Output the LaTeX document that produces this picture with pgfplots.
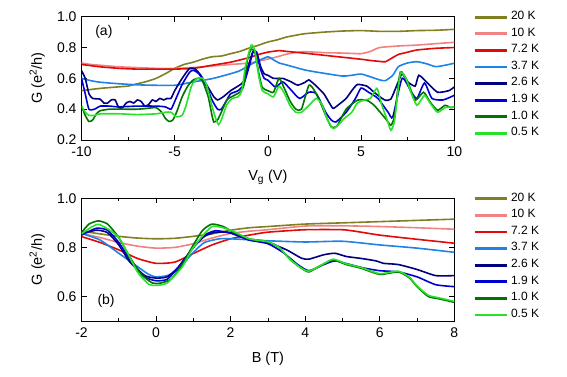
\documentclass[border=0pt]{standalone}
\usepackage{fontspec}
\setmainfont{Liberation Sans}
\usepackage{pgfplots}
\pgfplotsset{compat=1.18}
\definecolor{colA}{RGB}{128,128,32}
\definecolor{colB}{RGB}{240,130,130}
\definecolor{colC}{RGB}{225,10,10}
\definecolor{colD}{RGB}{30,130,230}
\definecolor{colE}{RGB}{0,0,128}
\definecolor{colF}{RGB}{0,0,210}
\definecolor{colG}{RGB}{0,115,0}
\definecolor{colH}{RGB}{40,225,40}
\pgfplotsset{
  myaxis/.style={
    scale only axis, width=372.8pt,
    anchor=south west,
    axis line style={line width=0.9pt},
    tick style={line width=0.8pt, black},
    tick align=inside,
    major tick length=5pt, minor tick length=3pt,
    minor x tick num=1,
    xtick pos=both, ytick pos=both,
    /pgf/number format/assume math mode=true,
    tick label style={font=\fontsize{14}{16}\selectfont},
    xticklabel style={yshift=-3pt},
    yticklabel style={xshift=-1.5pt, /pgf/number format/.cd, fixed, fixed zerofill, precision=1},
    label style={font=\fontsize{14.5}{17}\selectfont},
    ylabel={G (e\textsuperscript{2}/h)},
    ylabel style={at={(axis description cs:-0.119,0.5)}, anchor=center, rotate=0},
    every axis plot/.append style={line width=1.6pt, smooth, tension=0.35},
    legend image code/.code={\draw[#1, line width=2.8pt, sharp plot] (0pt,0pt) -- (32pt,0pt);},
    legend cell align=left,
    legend style={at={(1,1)}, anchor=north west, xshift=18.7pt, yshift=8pt,
      draw=none, fill=none, inner sep=0pt, column sep=3pt,
      font=\fontsize{12}{14}\selectfont,
      nodes={inner sep=0pt, text height=10.6pt, text depth=6pt}},
  }
}
\begin{document}
\begin{tikzpicture}
\useasboundingbox (0,0) rectangle (567pt,376pt);
% ---------------- panel (a)
\begin{axis}[myaxis, at={(81.5pt,236pt)}, height=123.3pt,
  xmin=-10, xmax=10, ymin=0.2, ymax=1.0,
  xtick={-10,-5,0,5,10}, ytick={0.2,0.4,0.6,0.8,1.0},
  xlabel={V\textsubscript{g} (V)},
  xlabel style={at={(axis description cs:0.5,-0.30)}, anchor=center},
]
\addplot[colA] coordinates {(-10,0.52) (-9,0.535) (-8,0.545) (-7.5,0.55) (-7,0.565) (-6.5,0.58) (-6,0.60) (-5.5,0.63) (-5,0.665) (-4.5,0.69) (-4,0.705) (-3.5,0.725) (-3,0.74) (-2.5,0.745) (-2,0.76) (-1.5,0.775) (-1,0.797) (-0.5,0.815) (0,0.836) (0.5,0.85) (1,0.868) (1.5,0.88) (2,0.89) (3,0.90) (4,0.907) (5,0.91) (6,0.905) (7,0.905) (8,0.91) (9,0.912) (10,0.918)};
\addlegendentry{20 K}
\addplot[colB] coordinates {(-10,0.70) (-9.5,0.69) (-9,0.685) (-8,0.675) (-7,0.67) (-6,0.665) (-5,0.665) (-4,0.67) (-3,0.68) (-2,0.69) (-1,0.70) (0,0.725) (0.5,0.74) (1,0.757) (1.5,0.768) (2,0.773) (3,0.767) (4,0.764) (4.5,0.762) (5,0.76) (5.5,0.775) (6,0.80) (7,0.81) (8,0.816) (9,0.825) (10,0.834)};
\addlegendentry{10 K}
\addplot[colC] coordinates {(-10,0.69) (-9,0.675) (-8,0.665) (-7,0.66) (-6,0.66) (-5,0.66) (-4,0.665) (-3,0.685) (-2,0.705) (-1,0.735) (-0.5,0.755) (0,0.77) (0.6,0.78) (1,0.775) (2,0.763) (3,0.75) (4,0.737) (5,0.724) (5.5,0.716) (6,0.71) (6.3,0.708) (6.7,0.735) (7,0.755) (7.5,0.77) (8,0.784) (9,0.795) (10,0.80)};
\addlegendentry{7.2 K}
\addplot[colD] coordinates {(-10,0.60) (-9.5,0.585) (-9,0.575) (-8,0.565) (-7,0.558) (-6,0.555) (-5,0.555) (-4.5,0.565) (-4,0.577) (-3,0.598) (-2,0.63) (-1.5,0.65) (-1,0.685) (-0.5,0.715) (0,0.74) (0.3,0.72) (0.6,0.70) (1,0.687) (2,0.654) (3,0.633) (4,0.615) (4.5,0.62) (5,0.628) (5.5,0.61) (6,0.59) (6.3,0.585) (6.7,0.62) (7,0.676) (7.5,0.70) (8,0.708) (8.5,0.695) (9,0.676) (9.5,0.685) (10,0.698)};
\addlegendentry{3.7 K}
\addplot[colE] coordinates {(-10,0.65) (-9.8,0.60) (-9.6,0.50) (-9.4,0.47) (-9.0,0.465) (-8.8,0.44) (-8.6,0.44) (-8.4,0.46) (-8.2,0.46) (-8.0,0.41) (-7.8,0.41) (-7.6,0.44) (-7.4,0.45) (-7.2,0.44) (-7.0,0.46) (-6.8,0.45) (-6.6,0.42) (-6.4,0.43) (-6.2,0.46) (-6.0,0.45) (-5.8,0.47) (-5.6,0.46) (-5.4,0.47) (-5.2,0.47) (-5.0,0.52) (-4.6,0.60) (-4.2,0.665) (-3.9,0.66) (-3.6,0.62) (-3.2,0.54) (-2.9,0.48) (-2.7,0.46) (-2.4,0.48) (-2.0,0.52) (-1.6,0.55) (-1.3,0.58) (-1.0,0.70) (-0.8,0.775) (-0.6,0.77) (-0.4,0.68) (-0.2,0.63) (0.0,0.62) (0.3,0.60) (0.6,0.60) (0.8,0.60) (1.2,0.58) (1.6,0.556) (2.0,0.575) (2.2,0.59) (2.6,0.55) (3.0,0.50) (3.3,0.44) (3.5,0.405) (3.8,0.43) (4.2,0.47) (4.5,0.52) (4.8,0.56) (5.3,0.55) (5.6,0.52) (5.9,0.49) (6.3,0.458) (6.6,0.466) (6.9,0.55) (7.2,0.63) (7.5,0.577) (7.9,0.55) (8.1,0.62) (8.6,0.566) (9.1,0.51) (9.7,0.52) (10,0.544)};
\addlegendentry{2.6 K}
\addplot[colF] coordinates {(-10,0.60) (-9.8,0.50) (-9.6,0.40) (-9.3,0.40) (-9.0,0.42) (-8.5,0.42) (-8,0.415) (-7,0.42) (-6,0.42) (-5.5,0.415) (-5.2,0.40) (-5.0,0.45) (-4.6,0.56) (-4.2,0.64) (-4.0,0.652) (-3.7,0.63) (-3.3,0.55) (-3.0,0.46) (-2.7,0.40) (-2.5,0.40) (-2.2,0.46) (-2.0,0.50) (-1.6,0.52) (-1.3,0.56) (-1.0,0.68) (-0.8,0.77) (-0.6,0.76) (-0.4,0.66) (-0.2,0.60) (0.0,0.588) (0.4,0.544) (0.8,0.577) (1.2,0.53) (1.7,0.47) (2.2,0.51) (2.6,0.50) (3.1,0.38) (3.4,0.33) (3.65,0.317) (4.2,0.38) (4.7,0.47) (5.0,0.537) (5.4,0.51) (5.9,0.47) (6.45,0.38) (6.7,0.35) (7.2,0.60) (7.7,0.51) (8.0,0.47) (8.4,0.57) (8.8,0.47) (9.4,0.46) (10,0.49)};
\addlegendentry{1.9 K}
\addplot[colG] coordinates {(-10,0.42) (-9.8,0.36) (-9.6,0.32) (-9.4,0.33) (-9.2,0.37) (-9.0,0.39) (-8.5,0.40) (-8,0.40) (-7,0.40) (-6.5,0.405) (-6,0.41) (-5.7,0.38) (-5.5,0.34) (-5.3,0.32) (-5.1,0.33) (-4.9,0.38) (-4.6,0.48) (-4.3,0.55) (-4.0,0.59) (-3.7,0.60) (-3.5,0.58) (-3.2,0.48) (-3.0,0.36) (-2.9,0.317) (-2.7,0.33) (-2.5,0.38) (-2.2,0.46) (-1.8,0.49) (-1.5,0.51) (-1.3,0.55) (-1.1,0.72) (-0.9,0.79) (-0.7,0.77) (-0.5,0.64) (-0.3,0.54) (0.0,0.52) (0.3,0.51) (0.6,0.60) (0.9,0.53) (1.2,0.45) (1.5,0.40) (1.8,0.40) (2.2,0.555) (2.5,0.52) (2.8,0.447) (3.1,0.36) (3.4,0.285) (3.7,0.29) (4.2,0.40) (4.8,0.458) (5.3,0.458) (5.7,0.425) (6.3,0.34) (6.6,0.296) (6.8,0.36) (7.1,0.64) (7.5,0.577) (7.9,0.458) (8.35,0.51) (8.7,0.447) (9.1,0.393) (9.5,0.425) (9.8,0.41) (10,0.414)};
\addlegendentry{1.0 K}
\addplot[colH] coordinates {(-10,0.42) (-9.8,0.38) (-9.6,0.36) (-9.3,0.36) (-9,0.37) (-8,0.37) (-7,0.365) (-6,0.37) (-5.5,0.38) (-5.2,0.38) (-4.9,0.35) (-4.6,0.36) (-4.4,0.42) (-4.1,0.55) (-3.8,0.60) (-3.5,0.60) (-3.3,0.56) (-3.0,0.42) (-2.8,0.34) (-2.65,0.30) (-2.5,0.33) (-2.2,0.43) (-1.9,0.47) (-1.6,0.48) (-1.4,0.52) (-1.2,0.68) (-0.9,0.815) (-0.7,0.78) (-0.5,0.62) (-0.3,0.52) (0.0,0.50) (0.3,0.48) (0.6,0.55) (0.9,0.50) (1.2,0.42) (1.5,0.38) (1.8,0.38) (2.2,0.425) (2.6,0.47) (2.9,0.43) (3.2,0.33) (3.5,0.274) (3.8,0.30) (4.1,0.34) (4.5,0.38) (4.8,0.44) (5.2,0.46) (5.5,0.47) (5.85,0.535) (6.1,0.43) (6.4,0.33) (6.6,0.263) (6.8,0.33) (7.1,0.63) (7.4,0.60) (7.7,0.50) (8.0,0.425) (8.4,0.49) (8.7,0.44) (9.1,0.38) (9.5,0.41) (10,0.414)};
\addlegendentry{0.5 K}
\node[font=\fontsize{14}{16}\selectfont] at (axis cs:-8.8,0.90) {(a)};
\end{axis}
% ---------------- panel (b)
\begin{axis}[myaxis, at={(81.5pt,55pt)}, height=122.7pt,
  xmin=-2, xmax=8, ymin=0.5, ymax=1.0,
  xtick={-2,0,2,4,6,8}, ytick={0.6,0.8,1.0},
  xticklabel style={/pgf/number format/.cd, fixed, precision=0},
  xlabel={B (T)},
  xlabel style={at={(axis description cs:0.5,-0.305)}, anchor=center},
]
\addplot[colA] coordinates {(-2,0.866) (-1.5,0.855) (-1,0.845) (-0.5,0.838) (0,0.835) (0.5,0.837) (1,0.845) (1.5,0.855) (2,0.87) (2.5,0.88) (3,0.885) (4,0.895) (5,0.90) (6,0.905) (7,0.91) (8,0.915)};
\addlegendentry{20 K}
\addplot[colB] coordinates {(-2,0.857) (-1.5,0.84) (-1,0.82) (-0.5,0.805) (0,0.797) (0.5,0.80) (1,0.815) (1.5,0.838) (2,0.857) (2.5,0.866) (3,0.872) (4,0.887) (5,0.888) (6,0.885) (7,0.88) (8,0.874)};
\addlegendentry{10 K}
\addplot[colC] coordinates {(-2,0.844) (-1.5,0.82) (-1,0.79) (-0.5,0.755) (0,0.735) (0.5,0.74) (1,0.775) (1.5,0.81) (2,0.835) (2.5,0.85) (3,0.862) (4,0.872) (5,0.872) (5.5,0.862) (6,0.85) (7,0.833) (8,0.817)};
\addlegendentry{7.2 K}
\addplot[colD] coordinates {(-2,0.857) (-1.5,0.83) (-1,0.776) (-0.5,0.722) (-0.2,0.69) (0,0.68) (0.3,0.685) (0.6,0.71) (1,0.78) (1.3,0.82) (1.7,0.835) (2,0.835) (3,0.827) (4,0.822) (5,0.825) (6,0.81) (7,0.797) (8,0.78)};
\addlegendentry{3.7 K}
\addplot[colE] coordinates {(-2,0.855) (-1.6,0.87) (-1.3,0.86) (-1,0.81) (-0.7,0.74) (-0.3,0.685) (0,0.675) (0.3,0.68) (0.6,0.72) (1,0.80) (1.3,0.845) (1.6,0.862) (2,0.86) (2.5,0.83) (3,0.82) (3.5,0.79) (3.9,0.756) (4.1,0.752) (4.5,0.77) (4.8,0.776) (5.1,0.763) (5.5,0.755) (5.9,0.745) (6.1,0.735) (6.5,0.73) (7,0.71) (7.5,0.685) (8,0.685)};
\addlegendentry{2.6 K}
\addplot[colF] coordinates {(-2,0.85) (-1.6,0.878) (-1.3,0.87) (-1,0.82) (-0.7,0.75) (-0.3,0.68) (0,0.664) (0.3,0.67) (0.6,0.72) (1,0.80) (1.3,0.85) (1.6,0.868) (2,0.858) (2.5,0.83) (3,0.815) (3.4,0.78) (3.8,0.73) (4.1,0.705) (4.5,0.73) (4.8,0.745) (5.2,0.73) (5.6,0.715) (6,0.705) (6.5,0.70) (7,0.68) (7.5,0.648) (8,0.64)};
\addlegendentry{1.9 K}
\addplot[colG] coordinates {(-2,0.86) (-1.8,0.895) (-1.55,0.908) (-1.3,0.895) (-1,0.84) (-0.7,0.76) (-0.4,0.69) (-0.1,0.655) (0.1,0.654) (0.4,0.67) (0.7,0.73) (1,0.81) (1.25,0.87) (1.5,0.895) (1.8,0.885) (2.1,0.86) (2.5,0.835) (3,0.823) (3.3,0.80) (3.6,0.75) (3.9,0.715) (4.1,0.70) (4.4,0.725) (4.75,0.749) (5.1,0.73) (5.5,0.715) (6,0.69) (6.5,0.70) (6.8,0.675) (7.0,0.64) (7.3,0.60) (7.6,0.59) (8,0.576)};
\addlegendentry{1.0 K}
\addplot[colH] coordinates {(-2,0.855) (-1.55,0.894) (-1,0.84) (-0.5,0.70) (-0.2,0.65) (0,0.645) (0.3,0.655) (0.7,0.72) (1,0.80) (1.5,0.885) (2,0.87) (2.5,0.835) (3,0.823) (3.3,0.80) (3.6,0.75) (3.9,0.715) (4.1,0.703) (4.4,0.725) (4.75,0.752) (5.1,0.733) (5.5,0.718) (6,0.693) (6.5,0.703) (6.8,0.678) (7.0,0.643) (7.3,0.605) (7.6,0.594) (8,0.58)};
\addlegendentry{0.5 K}
\node[font=\fontsize{14}{16}\selectfont] at (axis cs:-1.34,0.58) {(b)};
\end{axis}
\end{tikzpicture}
\end{document}
